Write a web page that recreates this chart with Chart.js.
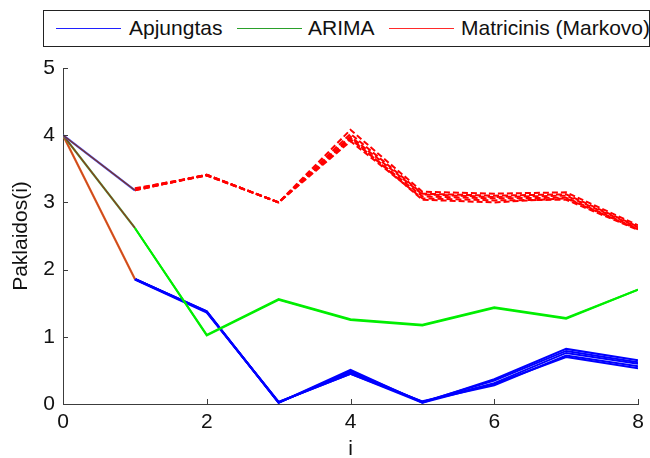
<!DOCTYPE html>
<html>
<head>
<meta charset="utf-8">
<script src="https://cdn.jsdelivr.net/npm/chart.js@4.4.0/dist/chart.umd.min.js"></script>
<style>
  body { margin: 0; background: #fff; font-family: "Liberation Sans", Arial, sans-serif; }
  #wrap { position: relative; width: 650px; height: 458px; }
  #legend { position: absolute; left: 43px; top: 10px; width: 607px; height: 37px; box-sizing: border-box;
            border: 1px solid #222; background: #fff; font-size: 21px; color: #111; white-space: nowrap; }
  #legend .ln { position: absolute; top: 17px; width: 65px; height: 0; border-top: 1px solid; }
  #legend .tx { position: absolute; top: 5px; line-height: 24px; }
</style>
</head>
<body>
<div id="wrap">
  <canvas id="chart"></canvas>
  <div id="legend"></div>
</div>
<script>
// prediction step
const steps = [0, 1, 2, 3, 4, 5, 6, 7, 8];
const startError = 4;

// errors for steps 1..8, one row per run
const apjungtasRuns = [
  [1.86, 1.38, 0.02, 0.51, 0.02, 0.37, 0.82, 0.65],
  [1.86, 1.38, 0.02, 0.49, 0.03, 0.35, 0.79, 0.62],
  [1.86, 1.37, 0.02, 0.47, 0.03, 0.31, 0.76, 0.60],
  [1.86, 1.37, 0.03, 0.45, 0.04, 0.28, 0.72, 0.56],
  [1.85, 1.36, 0.03, 0.45, 0.02, 0.30, 0.70, 0.53]
];
const arimaRuns = [
  [2.62, 1.02, 1.55, 1.25, 1.17, 1.43, 1.27, 1.70],
  [2.62, 1.03, 1.56, 1.26, 1.18, 1.44, 1.28, 1.70]
];
const markovRuns = [
  [3.18, 3.41, 3.00, 4.08, 3.16, 3.13, 3.15, 2.66],
  [3.18, 3.41, 3.00, 4.02, 3.13, 3.10, 3.12, 2.64],
  [3.19, 3.40, 3.00, 3.98, 3.12, 3.08, 3.10, 2.63],
  [3.20, 3.41, 3.00, 3.94, 3.09, 3.06, 3.07, 2.61],
  [3.21, 3.40, 3.00, 3.91, 3.06, 3.03, 3.04, 2.59],
  [3.19, 3.41, 3.00, 3.96, 3.04, 3.00, 3.06, 2.60]
];

const seriesNames = ['Apjungtas', 'ARIMA', 'Matricinis (Markovo)'];
const legendColors = ['#2020ff', '#2aa02a', '#ff2a2a'];
const axisColor = '#3c3c3c';

function runPoints(run) {
  return run.map((v, i) => ({ x: steps[i + 1], y: v }));
}

const datasets = [];

// first step, all methods leave the common starting error;
// the thin dark line is pushed first so it is drawn over its wider fringe
const firstSegments = [
  { to: markovRuns[0][0], under: '#4848ff', color: '#7a3a22' },
  { to: arimaRuns[0][0], under: '#40b040', color: '#8a3a1c' },
  { to: apjungtasRuns[0][0], under: '#e86a30', color: '#cc4a1e' }
];
firstSegments.forEach(s => {
  const pts = [{ x: steps[0], y: startError }, { x: steps[1], y: s.to }];
  datasets.push({ data: pts, borderColor: s.color, borderWidth: 1.4, order: 0 });
  datasets.push({ data: pts, borderColor: s.under, borderWidth: 2.2, order: 0 });
});

apjungtasRuns.forEach(run => datasets.push({
  data: runPoints(run), borderColor: '#0000ff', borderWidth: 2, order: 3
}));
arimaRuns.forEach(run => datasets.push({
  data: runPoints(run), borderColor: '#00ee00', borderWidth: 2, order: 2
}));
markovRuns.forEach(run => datasets.push({
  data: runPoints(run), borderColor: '#ff0000', borderWidth: 2, borderDash: [6, 3], order: 1
}));

const inwardTicks = {
  id: 'inwardTicks',
  afterDraw(chart) {
    const { ctx, chartArea, scales } = chart;
    ctx.save();
    ctx.strokeStyle = axisColor;
    ctx.lineWidth = 1;
    ctx.beginPath();
    scales.x.ticks.forEach(t => {
      const px = Math.round(scales.x.getPixelForValue(t.value)) + 0.5;
      ctx.moveTo(px, chartArea.bottom);
      ctx.lineTo(px, chartArea.bottom - 5);
    });
    scales.y.ticks.forEach(t => {
      const py = Math.round(scales.y.getPixelForValue(t.value)) + 0.5;
      ctx.moveTo(chartArea.left, py);
      ctx.lineTo(chartArea.left + 5, py);
    });
    ctx.stroke();
    ctx.restore();
  }
};

const tickFont = { family: '"Liberation Sans", Arial, sans-serif', size: 21 };

new Chart(document.getElementById('chart'), {
  type: 'line',
  data: { datasets: datasets },
  options: {
    responsive: true,
    maintainAspectRatio: false,
    animation: false,
    elements: { point: { radius: 0 }, line: { tension: 0 } },
    layout: { padding: { left: 0, right: 12, top: 68, bottom: 0 } },
    plugins: { legend: { display: false }, tooltip: { enabled: false } },
    scales: {
      x: {
        type: 'linear', min: 0, max: 8,
        afterFit: s => { s.height = 54; },
        grid: { display: false, drawTicks: false },
        border: { display: true, color: axisColor, width: 1 },
        ticks: { stepSize: 2, padding: 6, color: '#111', font: tickFont },
        title: { display: true, text: 'i', color: '#111', padding: 0,
                 font: { family: tickFont.family, size: 21, lineHeight: 0.8 } }
      },
      y: {
        min: 0, max: 5,
        afterFit: s => { s.width = 63; },
        grid: { display: false, drawTicks: false },
        border: { display: true, color: axisColor, width: 1 },
        ticks: { stepSize: 1, padding: 8, color: '#111', font: tickFont },
        title: { display: true, text: 'Paklaidos(i)', color: '#111', padding: { top: 9, bottom: 0 },
                 font: { family: tickFont.family, size: 21 } }
      }
    }
  },
  plugins: [inwardTicks]
});

// legend box above the axes
const legend = document.getElementById('legend');
const lineLefts = [12, 193, 345];
const textLefts = [85, 264, 417];
seriesNames.forEach((name, i) => {
  const ln = document.createElement('span');
  ln.className = 'ln';
  ln.style.left = lineLefts[i] + 'px';
  ln.style.borderTopColor = legendColors[i];
  legend.appendChild(ln);
  const tx = document.createElement('span');
  tx.className = 'tx';
  tx.style.left = textLefts[i] + 'px';
  tx.textContent = name;
  legend.appendChild(tx);
});
</script>
</body>
</html>
